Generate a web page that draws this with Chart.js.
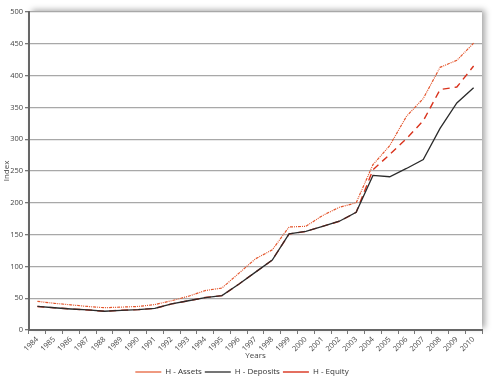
<!DOCTYPE html>
<html>
<head>
<meta charset="utf-8">
<script src="https://cdn.jsdelivr.net/npm/chart.js@4.4.1/dist/chart.umd.min.js"></script>
<style>
  html, body { margin: 0; padding: 0; background: #fff; }
  #wrap { width: 493px; height: 376px; position: relative; }
</style>
</head>
<body>
<div id="wrap"><canvas id="chart" width="493" height="376"></canvas></div>
<script>
const years = ['1984','1985','1986','1987','1988','1989','1990','1991','1992','1993','1994','1995','1996','1997','1998','1999','2000','2001','2002','2003','2004','2005','2006','2007','2008','2009','2010'];

const assets   = [45, 42, 39.5, 37, 35, 36, 37, 40, 46, 53, 62, 66, 89, 112, 126, 162, 163, 180, 193, 200, 260, 290, 336, 364, 413, 424, 451];
const deposits = [37, 35, 33, 31.5, 29.5, 31, 32, 34, 41, 46, 51, 54, 72, 91, 110, 151, 155, 163, 171, 185, 243, 241, 254, 268, 317, 357, 381];
const equity   = [37, 35, 33, 31.5, 29.5, 31, 32, 34, 41, 46, 51, 54, 72, 91, 110, 151, 155, 163, 171, 185, 252, 276, 301, 329, 378, 382, 415];

const yTicks = [0, 50, 100, 150, 200, 250, 300, 350, 400, 450, 500];

const FONT = '"Open Sans", "Liberation Sans", sans-serif';

// white plot panel with a soft grey drop shadow
const panelShadow = {
    id: 'panelShadow',
    beforeDraw(chart) {
        const { ctx, chartArea: a } = chart;
        ctx.save();
        ctx.shadowColor = 'rgba(0,0,0,0.35)';
        ctx.shadowBlur = 6;
        ctx.shadowOffsetX = 3;
        ctx.shadowOffsetY = -2;
        ctx.fillStyle = '#fff';
        ctx.fillRect(a.left, a.top, a.right - a.left, a.bottom - a.top);
        ctx.restore();
    }
};

const ctx = document.getElementById('chart').getContext('2d');
new Chart(ctx, {
    type: 'line',
    data: {
        labels: years,
        datasets: [
            {
                label: 'H - Assets',
                data: assets,
                borderColor: '#e4572e',
                borderWidth: 1.2,
                borderDash: [3, 1, 1, 1, 1, 1],
                pointRadius: 0,
                pointStyle: 'line',
                tension: 0
            },
            {
                label: 'H - Deposits',
                data: deposits,
                borderColor: '#2b2b2b',
                borderWidth: 1.3,
                pointRadius: 0,
                pointStyle: 'line',
                tension: 0
            },
            {
                label: 'H - Equity',
                data: equity,
                borderColor: '#d9321c',
                borderWidth: 1.4,
                borderDash: [7, 5],
                pointRadius: 0,
                pointStyle: 'line',
                tension: 0
            }
        ]
    },
    options: {
        responsive: false,
        animation: false,
        layout: { padding: { top: 12, right: 11, left: 2, bottom: -10 } },
        plugins: {
            legend: {
                position: 'bottom',
                labels: {
                    usePointStyle: true,
                    pointStyleWidth: 26,
                    boxHeight: 6,
                    padding: 3,
                    color: '#333',
                    font: { family: FONT, size: 8 }
                }
            },
            tooltip: { enabled: false }
        },
        scales: {
            x: {
                offset: true,
                afterFit(scale) { scale.height = 35; },
                grid: {
                    offset: true,
                    drawOnChartArea: false,
                    drawTicks: true,
                    tickLength: 4,
                    color: '#777',
                    lineWidth: 1
                },
                border: { color: '#666', width: 2 },
                ticks: {
                    autoSkip: false,
                    minRotation: 45,
                    maxRotation: 45,
                    padding: 1,
                    color: '#444',
                    font: { family: FONT, size: 7.5 }
                },
                title: {
                    display: true,
                    text: 'Years',
                    color: '#444',
                    padding: { top: 0, bottom: 4 },
                    font: { family: FONT, size: 8 }
                }
            },
            y: {
                min: 0,
                max: 500,
                afterFit(scale) { scale.width = 27; },
                afterBuildTicks(scale) {
                    scale.ticks = yTicks.map(v => ({ value: v }));
                },
                grid: {
                    color: '#a8a8a8',
                    lineWidth: 1.3,
                    tickLength: 4,
                    tickColor: '#777'
                },
                border: { color: '#666', width: 2 },
                ticks: {
                    padding: 2,
                    color: '#444',
                    font: { family: FONT, size: 7.5 }
                },
                title: {
                    display: true,
                    text: 'Index',
                    color: '#444',
                    padding: { top: 0, bottom: 0 },
                    font: { family: FONT, size: 8 }
                }
            }
        }
    },
    plugins: [panelShadow]
});
</script>
</body>
</html>
